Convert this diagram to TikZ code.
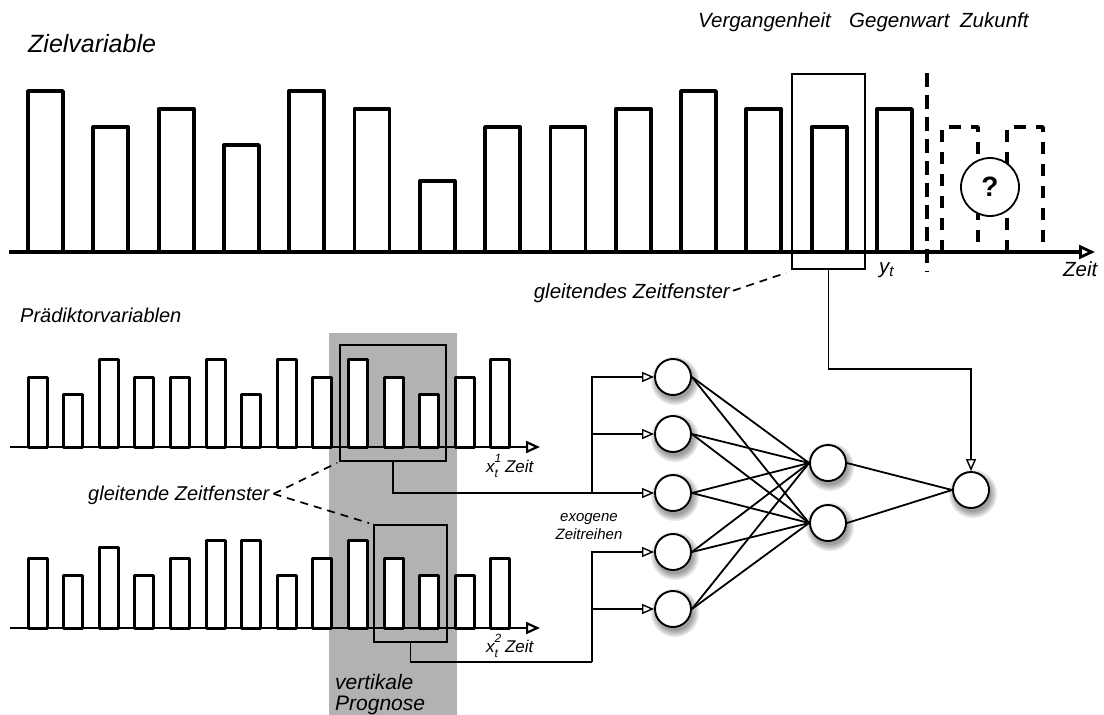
\documentclass[tikz,border=0pt]{standalone}
\usepackage{fontspec}
\setmainfont{Liberation Sans}
\usetikzlibrary{arrows.meta,calc}
\begin{document}
\begin{tikzpicture}[x=1pt,y=-1pt,
  tbar/.style={draw=black,fill=white,line width=3.8pt,line join=round},
  lbar/.style={draw=black,fill=white,line width=3pt,line join=round},
  taxis/.style={line width=4pt,-{Triangle[fill=white,length=16pt,width=14pt,line width=2.8pt]}},
  laxis/.style={line width=2.8pt,-{Triangle[fill=white,length=14pt,width=12pt,line width=2.2pt]}},
  win/.style={draw=black,line width=1.7pt,inner sep=0pt},
  conn/.style={line width=1.8pt},
  arr/.style={conn,-{Triangle[fill=white,length=12pt,width=10pt,line width=1.4pt]}},
  hint/.style={line width=1.7pt,dash pattern=on 8pt off 6pt},
  neuron/.style={circle,draw=black,fill=white,line width=1.9pt,minimum size=36pt,inner sep=0pt},
  shade/.style={fill=black,opacity=0.09},
  big/.style={font=\fontsize{25}{29}\selectfont\itshape,inner sep=0pt},
  mid/.style={font=\fontsize{20.5}{25}\selectfont\itshape,inner sep=0pt},
  low/.style={font=\fontsize{20}{22}\selectfont\itshape,inner sep=0pt},
  small/.style={font=\fontsize{17}{19}\selectfont\itshape,inner sep=0pt},
  tiny/.style={font=\fontsize{15}{18}\selectfont\itshape,inner sep=0pt,align=center}]
\useasboundingbox (0,0) rectangle (1104,715);

% gray band (vertical forecast)
\fill[black!30] (329,333) rectangle (457,715);

% ---------- top chart (target variable)
\foreach \t [count=\i from 0] in {91,127,109,145,91,109,181,127,127,109,91,109,127,109}
  \draw[tbar] ({28+65.3*\i},\t) rectangle ({63+65.3*\i},252);
\draw[tbar,fill=none,dash pattern=on 12pt off 10pt] (942,252) -- (942,127) -- (978,127) -- (978,252);
\draw[tbar,fill=none,dash pattern=on 12pt off 10pt] (1007,252) -- (1007,127) -- (1043,127) -- (1043,252);
\draw[line width=3.8pt,dash pattern=on 14pt off 8pt] (927,73) -- (927,272);
\draw[taxis] (9,252) -- (1095,252);
\node[circle,draw=black,fill=white,line width=1.8pt,minimum size=58pt,inner sep=0pt] (Q) at (990,187)
  {\fontsize{28}{28}\selectfont\bfseries ?};
\node[win,minimum width=73pt,minimum height=195pt] (W0) at (828.5,171.5) {};

\node[big,anchor=base west] (tZ) at (28,52) {Zielvariable};
\node[mid,anchor=base west] (tV) at (698,27) {Vergangenheit};
\node[mid,anchor=base west] (tG) at (849,27) {Gegenwart};
\node[mid,anchor=base west] (tK) at (960,27) {Zukunft};
\node[mid,anchor=base west] (tZeit) at (1063,276) {Zeit};
\node[mid,anchor=base west] (yt) at (879,273) {y\raisebox{-0.35ex}{\fontsize{15}{15}\selectfont t}};
\node[mid,anchor=base east] (G0) at (730,298) {gleitendes Zeitfenster};
\draw[hint] ($(G0.east)+(3,-2)$) -- ($(W0.south west)+(-5,3)$);

% ---------- lower charts (predictor variables)
\node[low,anchor=base west] (tP) at (20,322) {Prädiktorvariablen};
\foreach \h [count=\i from 0] in {70,53,88,70,70,88,53,88,70,88,70,53,70,88}
  \draw[lbar] ({28+35.6*\i},447) rectangle ++(19,-\h);
\draw[laxis] (10,447) -- (540,447);
\foreach \h [count=\i from 0] in {70,53,81,53,70,88,88,53,70,88,70,53,53,70}
  \draw[lbar] ({28+35.6*\i},628) rectangle ++(19,-\h);
\draw[laxis] (10,628) -- (540,628);

\node[win,minimum width=106pt,minimum height=116pt] (W1) at (393,403) {};
\node[win,minimum width=73pt,minimum height=117pt] (W2) at (410.5,583.5) {};

\node[small,anchor=base west] (x1) at (486,472)
  {x\makebox[0pt][l]{\raisebox{1.1ex}{\fontsize{12}{12}\selectfont 1}}\raisebox{-0.6ex}{\fontsize{12}{12}\selectfont t}\hspace{7pt}Zeit};
\node[small,anchor=base west] (x2) at (486,652)
  {x\makebox[0pt][l]{\raisebox{1.1ex}{\fontsize{12}{12}\selectfont 2}}\raisebox{-0.6ex}{\fontsize{12}{12}\selectfont t}\hspace{7pt}Zeit};

\node[low,anchor=base west] (G1) at (88,500) {gleitende Zeitfenster};
\coordinate (gv) at ($(G1.east)+(4,-1)$);
\draw[hint] (gv) -- ($(W1.south west)+(-2,1)$);
\draw[hint] (gv) -- ($(W2.north west)+(-4,-1)$);

\node[font=\fontsize{21}{23}\selectfont\itshape,inner sep=0pt,anchor=base west] (vp1) at (335,689) {vertikale};
\node[font=\fontsize{21}{23}\selectfont\itshape,inner sep=0pt,anchor=base west] (vp2) at (335,710) {Prognose};

% ---------- network (soft shadows first)
\foreach \px/\py in {673/377,673/434,673/493,673/552,673/609,828/463,828/523,971/490}
  \foreach \r in {24,22.5,21,19.5,18}
    \fill[shade] ({\px+2},{\py+4}) circle[radius=\r];

\node[neuron] (I1) at (673,377) {};
\node[neuron] (I2) at (673,434) {};
\node[neuron] (I3) at (673,493) {};
\node[neuron] (I4) at (673,552) {};
\node[neuron] (I5) at (673,609) {};
\node[neuron] (H1) at (828,463) {};
\node[neuron] (H2) at (828,523) {};
\node[neuron] (O)  at (971,490) {};

\foreach \a in {I1,I2,I3,I4,I5}
  \foreach \b in {H1,H2}
    \draw[conn] (\a.east) -- (\b.west);
\draw[conn] (H1.east) -- (O.west);
\draw[conn] (H2.east) -- (O.west);

\node[tiny] (exo) at (589,527) {exogene\\Zeitreihen};

\coordinate (b1) at (592,493);
\coordinate (b2) at (592,662);
\draw[arr] (W1.south) |- (I3.west);
\draw[arr] (b1) |- (I1.west);
\draw[arr] (b1) |- (I2.west);
\draw[conn] (W2.south) |- (b2);
\draw[arr] (b2) |- (I4.west);
\draw[arr] (b2) |- (I5.west);

\coordinate (fb) at (971,369);
\draw[arr] (W0.south) |- (fb) -- (O.north);
\end{tikzpicture}
\end{document}
